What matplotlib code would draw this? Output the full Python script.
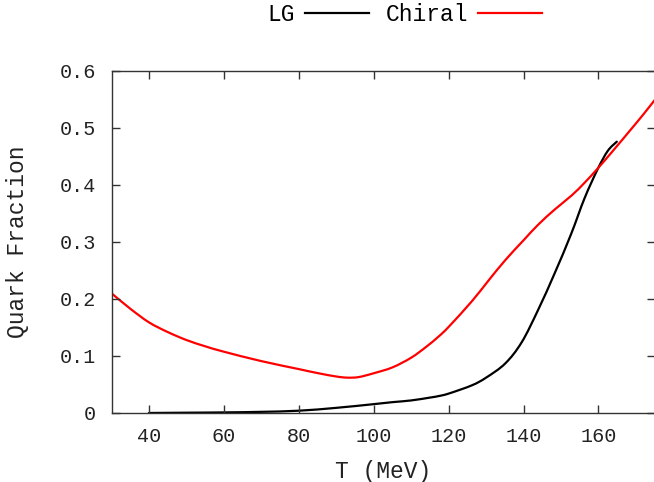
import matplotlib.pyplot as plt
import numpy as np
from matplotlib.path import Path
from matplotlib.patches import PathPatch
from matplotlib.lines import Line2D

# lattice gauge curve
T_lg = [40, 50, 60, 70, 80, 90, 100, 105, 110, 115, 117.3, 120, 126.2, 130,
        135.1, 139.5, 143.9, 148.3, 152.7, 156.3, 159.8, 162.5, 164.9]
lg = [0.0, 0.0005, 0.001, 0.002, 0.004, 0.009, 0.0155, 0.019, 0.022, 0.027,
      0.0296, 0.034, 0.0485, 0.062, 0.0868, 0.124, 0.181, 0.245, 0.314, 0.377,
      0.428, 0.46, 0.476]

# chiral model curve
T_ch = [30, 35, 40, 45, 50, 55, 60, 70, 80, 85, 90, 93, 96, 100, 105, 110,
        114, 117.3, 120, 126.2, 130.6, 135.1, 140, 144, 148.5, 152.9, 156.3,
        159.8, 164, 168.6, 172, 175]
ch = [0.21, 0.183, 0.159, 0.142, 0.128, 0.117, 0.1075, 0.091, 0.077, 0.07,
      0.064, 0.062, 0.063, 0.0697, 0.08, 0.097, 0.116, 0.134, 0.151, 0.196,
      0.232, 0.268, 0.303, 0.331, 0.358, 0.382, 0.404, 0.429, 0.461, 0.497,
      0.524, 0.549]

yticks = [0, 0.1, 0.2, 0.3, 0.4, 0.5, 0.6]
ytick_labels = ["0", "0.1", "0.2", "0.3", "0.4", "0.5", "0.6"]
xticks = [40, 60, 80, 100, 120, 140, 160]


def smooth_path(x, y):
    # catmull-rom through the points, written as cubic bezier segments
    p = np.column_stack([x, y]).astype(float)
    p_ext = np.vstack([p[0], p, p[-1]])
    verts = [p[0]]
    codes = [Path.MOVETO]
    for i in range(1, len(p_ext) - 2):
        p0, p1, p2, p3 = p_ext[i - 1], p_ext[i], p_ext[i + 1], p_ext[i + 2]
        verts += [p1 + (p2 - p0) / 6, p2 - (p3 - p1) / 6, p2]
        codes += [Path.CURVE4] * 3
    return Path(verts, codes)


plt.rcParams['font.family'] = ['Liberation Mono', 'DejaVu Sans Mono']

fig = plt.figure(figsize=(6.54, 4.82), dpi=100)
ax = fig.add_axes([0.1705, 0.1432, 0.8305, 0.7095])

for x, y, c in [(T_lg, lg, 'black'), (T_ch, ch, '#ff0000')]:
    ax.add_patch(PathPatch(smooth_path(x, y), fill=False, edgecolor=c,
                           lw=1.6, capstyle='round', joinstyle='round'))

ax.set_xlim(30, 175)
ax.set_ylim(0, 0.6)
ax.set_xticks(xticks)
ax.set_yticks(yticks)
ax.set_yticklabels(ytick_labels)
ax.tick_params(direction='in', top=True, right=True, length=6, width=1,
               color='#333333', labelcolor='#222222', labelsize=14.5)
ax.tick_params(axis='x', pad=10)
ax.tick_params(axis='y', pad=11)
for s in ax.spines.values():
    s.set_color('#333333')
    s.set_linewidth(1)

ax.set_xlabel('T (MeV)', labelpad=10, color='#222222', fontsize=16.5)
ax.set_ylabel('Quark Fraction', labelpad=22, color='#222222', fontsize=16.5)

handles = [Line2D([], [], color='black', lw=1.6),
           Line2D([], [], color='#ff0000', lw=1.6)]
fig.legend(handles, ['LG', 'Chiral'], loc='center',
           bbox_to_anchor=(0.619, 0.969), ncol=2, frameon=False,
           markerfirst=False, handlelength=2.8, handletextpad=0.45,
           columnspacing=0.7, fontsize=16.5, borderpad=0, borderaxespad=0)

fig.savefig('out.png', dpi=100)
